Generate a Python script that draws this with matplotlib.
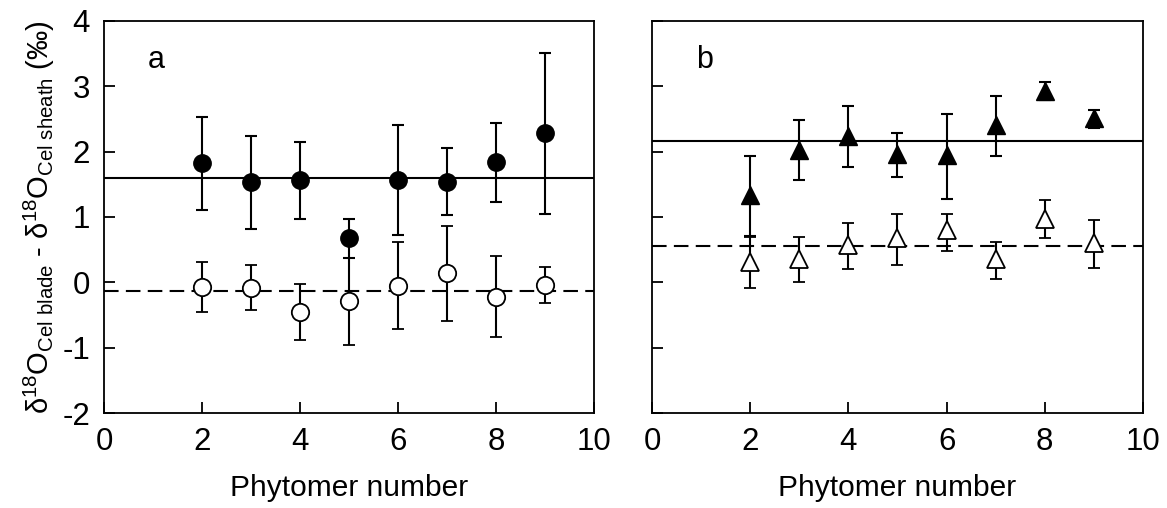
import matplotlib
matplotlib.use('Agg')
from matplotlib import pyplot as plt

# Dados
phytomer = [2, 3, 4, 5, 6, 7, 8, 9]

# painel a (circulos)
a_filled = [1.83, 1.53, 1.56, 0.68, 1.56, 1.54, 1.84, 2.28]
a_filled_hi = [2.53, 2.24, 2.14, 0.97, 2.40, 2.06, 2.44, 3.51]
a_filled_lo = [1.11, 0.82, 0.97, 0.37, 0.72, 1.03, 1.23, 1.05]
a_open = [-0.07, -0.09, -0.46, -0.29, -0.05, 0.14, -0.22, -0.04]
a_open_hi = [0.31, 0.26, -0.02, 0.37, 0.62, 0.86, 0.40, 0.23]
a_open_lo = [-0.45, -0.43, -0.89, -0.96, -0.71, -0.59, -0.83, -0.32]
a_mean_filled = 1.60
a_mean_open = -0.14

# painel b (triangulos)
b_filled = [1.34, 2.03, 2.24, 1.96, 1.94, 2.41, 2.92, 2.51]
b_filled_hi = [1.93, 2.48, 2.69, 2.29, 2.57, 2.85, 3.06, 2.64]
b_filled_lo = [0.71, 1.56, 1.77, 1.61, 1.28, 1.93, 2.79, 2.36]
b_open = [0.31, 0.36, 0.57, 0.67, 0.80, 0.35, 0.97, 0.60]
b_open_hi = [0.69, 0.69, 0.90, 1.05, 1.05, 0.61, 1.26, 0.95]
b_open_lo = [-0.08, 0.01, 0.20, 0.27, 0.48, 0.05, 0.67, 0.22]
b_mean_filled = 2.16
b_mean_open = 0.56

plt.rcParams['font.family'] = ['Liberation Sans', 'DejaVu Sans']
plt.rcParams['mathtext.fontset'] = 'custom'
plt.rcParams['mathtext.rm'] = 'Liberation Sans'
plt.rcParams['mathtext.it'] = 'Liberation Sans'
plt.rcParams['mathtext.default'] = 'regular'
plt.rcParams['axes.unicode_minus'] = False

fig = plt.figure(figsize=(11.67, 5.08), dpi=100)
ax_a = fig.add_axes([0.0891, 0.187, 0.420, 0.772])
ax_b = fig.add_axes([0.5587, 0.187, 0.4207, 0.772])


def errs(vals, hi, lo):
    return [[v - l for v, l in zip(vals, lo)], [h - v for v, h in zip(vals, hi)]]


def draw(ax, filled, fhi, flo, opn, ohi, olo, mf, mo, marker, ms, letter):
    ax.axhline(mf, color='black', lw=1.5, zorder=1)
    ax.axhline(mo, color='black', lw=1.5, ls=(0, (7, 3.5)), zorder=1)
    ax.errorbar(phytomer, opn, yerr=errs(opn, ohi, olo), fmt=marker, ms=ms,
                mfc='white', mec='black', mew=1.3, ecolor='black',
                elinewidth=1.5, capsize=4, capthick=1.5, zorder=3)
    ax.errorbar(phytomer, filled, yerr=errs(filled, fhi, flo), fmt=marker, ms=ms,
                mfc='black', mec='black', ecolor='black',
                elinewidth=1.5, capsize=4, capthick=1.5, zorder=4)
    ax.set_xlim(0, 10)
    ax.set_ylim(-2, 4)
    ax.set_xticks([0, 2, 4, 6, 8, 10])
    ax.set_yticks([-2, -1, 0, 1, 2, 3, 4])
    ax.tick_params(axis='both', direction='in', length=8, width=1.3,
                   labelsize=22.5)
    ax.tick_params(axis='x', pad=10)
    ax.tick_params(axis='y', pad=10)
    for s in ax.spines.values():
        s.set_linewidth(1.3)
    ax.set_xlabel('Phytomer number', fontsize=21.5, labelpad=12)
    ax.text(0.09, 0.9, letter, transform=ax.transAxes, fontsize=22,
            ha='left', va='center')


draw(ax_a, a_filled, a_filled_hi, a_filled_lo, a_open, a_open_hi, a_open_lo,
     a_mean_filled, a_mean_open, 'o', 12.5, 'a')
draw(ax_b, b_filled, b_filled_hi, b_filled_lo, b_open, b_open_hi, b_open_lo,
     b_mean_filled, b_mean_open, '^', 13.5, 'b')
ax_b.tick_params(axis='y', labelleft=False)

ax_a.set_ylabel(r'$\delta^{18}$O$_{Cel\ blade}$ - $\delta^{18}$O$_{Cel\ sheath}$ (‰)',
                fontsize=21, labelpad=4)

fig.savefig('out.png', dpi=100)
